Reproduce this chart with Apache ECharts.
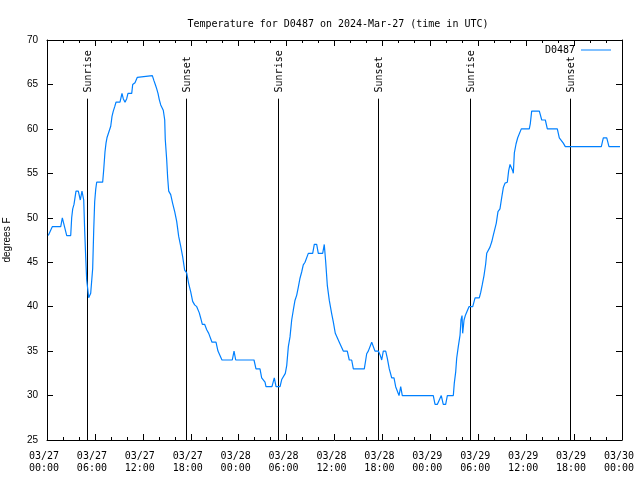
<!DOCTYPE html>
<html>
<head>
<meta charset="utf-8">
<script src="https://cdn.jsdelivr.net/npm/echarts@6/dist/echarts.min.js"></script>
<style>html,body{margin:0;padding:0;background:#fff}#c{width:640px;height:480px}</style>
</head>
<body>
<div id="c"></div>
<script>
// Hours since 2024-03-27 00:00 UTC
var hours = [0.16,0.66,1.72,1.92,2.19,2.47,2.97,3.09,3.22,3.38,3.63,3.92,4.17,4.38,4.60,4.72,4.85,4.97,5.10,5.22,5.47,5.72,5.85,5.97,6.10,6.22,6.97,7.10,7.26,7.39,7.51,7.76,7.98,8.14,8.30,8.48,8.64,9.14,9.39,9.55,9.77,9.98,10.14,10.61,10.73,11.02,11.14,11.31,11.43,13.19,13.40,13.56,13.74,13.90,14.06,14.24,14.56,14.74,14.81,14.99,15.11,15.24,15.49,15.74,15.99,16.24,16.49,16.74,16.99,17.24,17.49,17.74,17.99,18.24,18.49,18.75,19.07,19.25,19.45,19.75,20.00,20.25,20.50,20.66,21.16,21.41,21.66,21.91,23.20,23.42,23.63,25.92,26.17,26.67,26.88,27.09,27.30,27.42,28.17,28.46,28.68,29.18,29.39,29.59,29.84,30.02,30.22,30.43,30.64,30.84,31.05,31.27,31.47,31.68,31.89,32.09,32.31,32.72,33.27,33.47,33.77,33.97,34.52,34.72,34.90,35.10,35.35,35.65,35.85,36.10,36.35,36.60,36.85,37.10,37.60,37.85,38.15,38.36,39.73,39.91,40.03,40.23,40.45,40.66,40.86,41.07,41.49,41.70,41.91,42.11,42.41,42.61,42.86,43.16,43.45,43.66,43.86,44.08,44.29,44.49,48.37,48.59,48.87,49.12,49.37,49.62,49.92,50.13,50.88,51.00,51.18,51.30,51.50,51.72,51.84,51.97,52.05,52.22,52.38,52.63,52.84,53.31,53.60,54.13,54.31,54.51,54.72,54.93,55.06,55.31,55.47,55.69,55.85,56.10,56.26,56.47,56.72,56.94,57.14,57.35,57.64,57.81,57.98,58.19,58.31,58.39,58.52,58.73,58.94,59.14,59.39,60.39,60.52,60.69,61.65,61.95,62.40,62.65,63.90,64.15,64.40,64.65,64.90,69.41,69.66,70.09,70.37,71.75];
var temps = [48,49,49,50,49,48,48,50,51,51.5,53,53,52,53,52,48.5,45.5,43,42,41,41.5,44.3,48.6,51.8,53.2,54,54,55.4,57.4,58.4,59,59,60.3,61.4,62,62.5,63,63,64,63.4,63,63.4,64,64,65,65.2,65.4,65.8,66,66,65.4,65,64.5,64,63.3,62.7,62.1,61,58.8,56.5,54.5,53,52.6,51.6,50.7,49.6,47.9,46.8,45.6,44.1,43.8,42.6,41.7,40.6,40.2,40,39.3,38.7,38,38,37.4,37,37,36,36,35,35,34,34,35,34,34,33,33,32,32,31.5,31,31,32,31,31,31.8,32,32.5,33.4,35.5,36.6,38.5,39.6,40.7,41.3,42.2,43.2,43.9,44.7,45,46,46,47,47,46,46,47,45,42.4,40.7,39.2,38.3,37,37,36,36,35,35,34,34,33,33,34,34.7,35,35,36,36,35,35,34.6,34,35,35,34.2,33,32,32,31,31,30,31,30,30,29,29,29.5,30,29,29,30,30,31.4,32.7,34.2,35.5,36.8,38.5,39,37,38.5,39,39.2,40,40,41,41,41.6,42.5,43.5,44.8,46,46,46.7,47.3,47.9,48,49.4,50.7,51,52.3,53.4,53.9,54,55.3,56,56,55.3,55,57.3,58.3,59,59,60,60,60.6,62,62,61,61,60,60,59,59,58.4,58,58,59,59,58,58];
var tickLabels = ["03/27\n00:00","03/27\n06:00","03/27\n12:00","03/27\n18:00","03/28\n00:00","03/28\n06:00","03/28\n12:00","03/28\n18:00","03/29\n00:00","03/29\n06:00","03/29\n12:00","03/29\n18:00","03/30\n00:00"];
var eventHours = [5.05,17.45,28.98,41.48,52.98,65.52];
var eventLabels = ["Sunrise","Sunset","Sunrise","Sunset","Sunrise","Sunset"];

var mono = "DejaVu Sans Mono";
var chart = echarts.init(document.getElementById('c'), null, {renderer:'canvas'});
var tickStyle = {show:true, inside:true, length:6, lineStyle:{color:'#000', width:1}};
var minorStyle = {show:true, splitNumber:3, length:3, lineStyle:{color:'#000', width:1}};
var lineAx = {show:true, onZero:false, lineStyle:{color:'#000', width:1}};
chart.setOption({
  animation:false,
  backgroundColor:'#fff',
  title:{text:'Temperature for D0487 on 2024-Mar-27 (time in UTC)', left:333, top:14, textAlign:'center',
    textStyle:{fontFamily:mono, fontSize:10, fontWeight:'normal', color:'#000'}},
  legend:{show:true, right:24, top:40, padding:5, align:'right', itemWidth:30, itemHeight:1, icon:'rect',
    data:['D0487'], textStyle:{fontFamily:mono, fontSize:10, color:'#000', padding:[0,1,0,0]}},
  grid:{left:47, right:18, top:40, bottom:40, containLabel:false, outerBoundsMode:'none'},
  xAxis:[{type:'value', min:0, max:72, interval:6, position:'bottom',
      axisLine:lineAx, axisTick:tickStyle, minorTick:minorStyle, splitLine:{show:false},
      axisLabel:{fontFamily:mono, fontSize:10, color:'#000', margin:10, lineHeight:12.6, padding:[0,6,0,0],
        formatter:function(v){return tickLabels[Math.round(v/6)];}}},
    {type:'value', min:0, max:72, interval:6, position:'top',
      axisLine:lineAx, axisTick:tickStyle, minorTick:minorStyle, splitLine:{show:false}, axisLabel:{show:false}}],
  yAxis:[{type:'value', min:25, max:70, interval:5, position:'left', name:'degrees F', nameLocation:'middle',
      nameGap:35, nameRotate:90, nameTextStyle:{fontFamily:'Liberation Sans', fontSize:10, color:'#000'},
      axisLine:lineAx, axisTick:tickStyle, splitLine:{show:false},
      axisLabel:{fontFamily:'Liberation Sans', fontSize:10, color:'#000', margin:9}},
    {type:'value', min:25, max:70, interval:5, position:'right',
      axisLine:lineAx, axisTick:tickStyle, splitLine:{show:false}, axisLabel:{show:false}}],
  series:[
    {name:'D0487', type:'line', showSymbol:false, symbol:'none', smooth:false,
     data:hours.map(function(h,i){return [h,temps[i]];}),
     lineStyle:{color:'#0080ff', width:1.2}, itemStyle:{color:'#0080ff'}},
    {name:'events', type:'custom', silent:true,
     data:eventHours.map(function(h,i){return [h, eventLabels[i]];}),
     renderItem:function(params, api){
       var h = api.value(0);
       var top = api.coord([h, 63.4]);
       var bot = api.coord([h, 25]);
       var lab = api.coord([h, 64.1]);
       var x = Math.round(top[0]) + 0.5;
       return {type:'group', children:[
         {type:'line', shape:{x1:x, y1:top[1], x2:x, y2:bot[1]}, style:{stroke:'#000', lineWidth:1}},
         {type:'text', x:x+0.5, y:lab[1], rotation:Math.PI/2,
          style:{text:eventLabels[params.dataIndex], fill:'#000', font:'10px "DejaVu Sans Mono"',
                 textAlign:'left', textVerticalAlign:'middle'}}
       ]};
     }}
  ]
});
</script>
</body>
</html>
